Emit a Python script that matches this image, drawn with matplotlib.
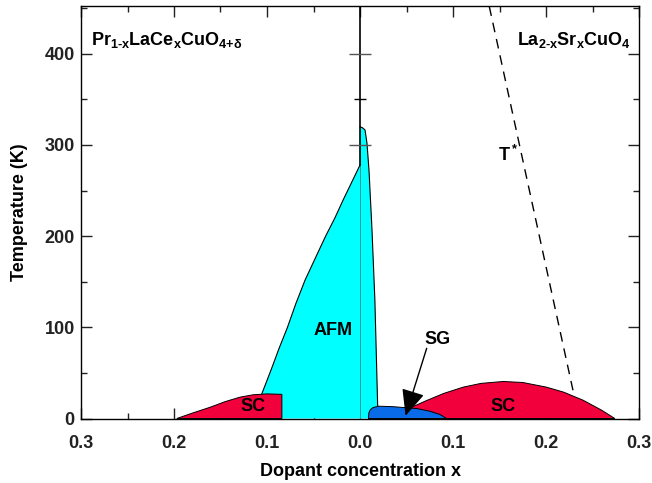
import matplotlib
matplotlib.use('Agg')
import matplotlib.pyplot as plt
from matplotlib.ticker import MultipleLocator, FuncFormatter

plt.rcParams['font.family'] = ['Liberation Sans', 'DejaVu Sans']
plt.rcParams['font.weight'] = 'bold'
plt.rcParams['mathtext.fontset'] = 'custom'
plt.rcParams['mathtext.rm'] = 'Liberation Sans:bold'
plt.rcParams['mathtext.bf'] = 'Liberation Sans:bold'
plt.rcParams['mathtext.it'] = 'Liberation Sans:italic'

# данные: границы фаз (x, T), электронная сторона x < 0
afm_e_x = [0.0, -0.009, -0.018, -0.027, -0.037, -0.048, -0.059, -0.069, -0.078, -0.087, -0.095, -0.1056, -0.115]
afm_e_T = [278, 259, 240, 220, 200, 176, 152, 126, 100, 77, 55, 27, 0]
afm_h_x = [0.0, 0.0025, 0.0054, 0.0075, 0.0097, 0.0129, 0.016, 0.019, 0.020]
afm_h_T = [320, 319, 316.5, 302, 272, 207, 130, 14, 0]
sc_e_x = [-0.197, -0.18, -0.161, -0.145, -0.129, -0.115, -0.10, -0.084, -0.084]
sc_e_T = [0, 6, 12.4, 18.5, 23.4, 26, 27, 26.5, 0]
sc_h_x = [0.047, 0.0556, 0.07, 0.09, 0.111, 0.13, 0.154, 0.175, 0.20, 0.219, 0.24, 0.26, 0.274]
sc_h_T = [0, 12.4, 19, 27.5, 34.4, 38.5, 40.6, 39.5, 34.5, 28.9, 20, 9, 0]
sg_x = [0.009, 0.0095, 0.011, 0.014, 0.02, 0.035, 0.05, 0.061, 0.075, 0.086, 0.093]
sg_T = [0, 6, 9.5, 12.0, 13.5, 13.0, 11.8, 10.9, 8.0, 4.4, 0]
tstar_x = [0.139, 0.229]
tstar_T = [452, 31]

cyan = '#00FFFF'
red = '#F2003C'
blue = '#0A6BE8'

fig = plt.figure(figsize=(6.52, 4.83), dpi=100)
ax = fig.add_axes([81/652, 1 - 418.5/483, 558/652, 413/483])

# АФМ: заливка без контура на x = 0, контур рисуется отдельно
ax.fill([0] + afm_e_x + [0], [0] + afm_e_T + [0], facecolor=cyan, edgecolor='none', zorder=2)
ax.fill([0] + afm_h_x + [0], [0] + afm_h_T + [0], facecolor=cyan, edgecolor='none', zorder=2)
ax.plot(afm_e_x, afm_e_T, color='black', lw=0.8, zorder=2.2)
ax.plot(afm_h_x, afm_h_T, color='black', lw=0.8, zorder=2.2)
ax.plot([0, 0], [0, 278], color='#1c9a9a', lw=0.7, zorder=2.5)
ax.fill(sc_e_x, sc_e_T, facecolor=red, edgecolor='black', lw=0.7, zorder=3)
ax.fill(sc_h_x, sc_h_T, facecolor=red, edgecolor='black', lw=0.7, zorder=3)
ax.fill(sg_x, sg_T, facecolor=blue, edgecolor='black', lw=0.7, zorder=4)
ax.plot(tstar_x, tstar_T, color='black', ls=(0, (7, 5)), lw=1.0, zorder=3)

# центральная ось x = 0
ax.plot([0, 0], [278, 460], color='black', lw=1.2, zorder=5)
ax.plot([0, 0], [300, 400], ls='none', marker='_', ms=16, mew=1.0,
        color='#555555', zorder=6)
ax.plot([0], [350], ls='none', marker='_', ms=8, mew=1.0, color='black', zorder=6)

ax.set_xlim(-0.3, 0.3)
ax.set_ylim(0, 453)
ax.xaxis.set_major_locator(MultipleLocator(0.1))
ax.xaxis.set_minor_locator(MultipleLocator(0.05))
ax.yaxis.set_major_locator(MultipleLocator(100))
ax.yaxis.set_minor_locator(MultipleLocator(50))
ax.xaxis.set_major_formatter(FuncFormatter(lambda v, p: '%.1f' % abs(v)))
ax.tick_params(which='both', direction='in', top=True, right=True,
               labelsize=13, colors='#222222')
ax.tick_params(which='major', length=8, width=1)
ax.tick_params(which='minor', length=4, width=1)
ax.tick_params(axis='x', pad=12)
ax.tick_params(axis='y', pad=4.5)
for s in ax.spines.values():
    s.set_linewidth(1.0)

ax.set_xlabel('Dopant concentration x', fontsize=13, fontweight='bold', labelpad=8)
ax.set_ylabel('Temperature (K)', fontsize=13, fontweight='bold', labelpad=12)

ax.text(-0.289, 415, r'$\mathrm{Pr_{1\text{-}x}LaCe_xCuO_{4\text{+}\delta}}$', fontsize=13,
        ha='left', va='center')
ax.text(0.291, 415, r'$\mathrm{La_{2\text{-}x}Sr_xCuO_4}$', fontsize=13,
        ha='right', va='center')
ax.text(-0.029, 97, 'AFM', fontsize=13, fontweight='bold', ha='center', va='center', zorder=7)
ax.text(-0.115, 13, 'SC', fontsize=13, fontweight='bold', ha='center', va='center', zorder=7)
ax.text(0.154, 13, 'SC', fontsize=13, fontweight='bold', ha='center', va='center', zorder=7)
ax.text(0.083, 87, 'SG', fontsize=13, fontweight='bold', ha='center', va='center', zorder=7)
ax.text(0.159, 289, r'$\mathrm{T^*}$', fontsize=13, ha='center', va='center', zorder=7)

ax.annotate('', xy=(0.049, 3), xytext=(0.0717, 77),
            arrowprops=dict(arrowstyle='-|>,head_length=0.9,head_width=0.4',
                            mutation_scale=18, color='black', lw=1.0,
                            shrinkA=0, shrinkB=0),
            zorder=8)

plt.savefig('out.png', dpi=100)
